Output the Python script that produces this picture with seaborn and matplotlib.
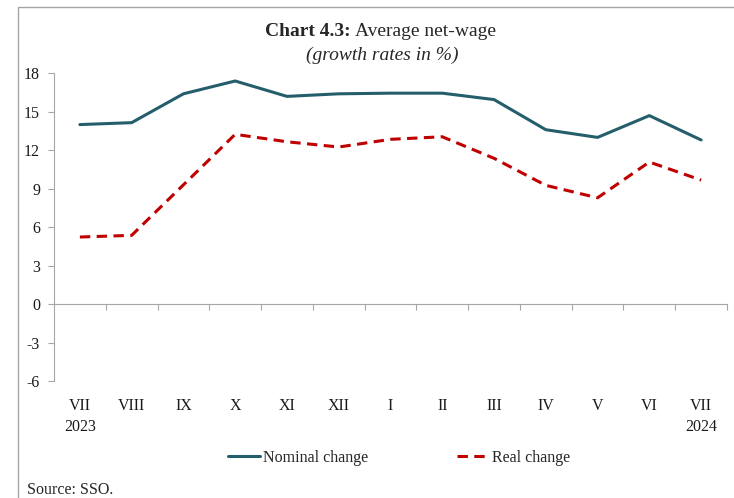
import numpy as np
import pandas as pd
import matplotlib
matplotlib.use('Agg')
import matplotlib.pyplot as plt
from matplotlib.patches import Rectangle
import seaborn as sns

# data (growth rates in %)
months = ['VII\n2023', 'VIII', 'IX', 'X', 'XI', 'XII', 'I', 'II', 'III',
          'IV', 'V', 'VI', 'VII\n2024']
nominal = [14.0, 14.15, 16.4, 17.4, 16.2, 16.4, 16.45, 16.45, 15.95,
           13.6, 13.0, 14.7, 12.8]
real = [5.23, 5.36, 9.3, 13.24, 12.66, 12.25, 12.85, 13.05, 11.37,
        9.26, 8.29, 11.08, 9.67]
yticks = [-6, -3, 0, 3, 6, 9, 12, 15, 18]

teal = '#255e6b'
red = '#c00000'
grey = '#a6a6a6'

sns.set_style('ticks')
plt.rcParams['font.family'] = ['Liberation Serif', 'DejaVu Serif']
plt.rcParams['font.size'] = 11
plt.rcParams['axes.unicode_minus'] = False

df = pd.DataFrame({'pos': np.arange(len(months)), 'nominal': nominal, 'real': real})

fig = plt.figure(figsize=(7.34, 4.98), dpi=100)
ax = fig.add_axes([54 / 734, 1 - 381 / 498, (727 - 54) / 734, (381 - 73.3) / 498])

sns.lineplot(data=df, x='pos', y='nominal', color=teal, lw=2.2,
             label='Nominal change', ax=ax)
sns.lineplot(data=df, x='pos', y='real', color=red, lw=2.2,
             linestyle=(0, (3.4, 2.1)), label='Real change', ax=ax)

ax.set_xlim(-0.5, len(months) - 0.5)
ax.set_ylim(-6, 18)
ax.set_yticks(yticks)
ax.set_xlabel('')
ax.set_ylabel('')

# zero line with little ticks between months
ax.spines['top'].set_visible(False)
ax.spines['right'].set_visible(False)
ax.spines['left'].set_color(grey)
ax.spines['bottom'].set_position(('data', 0))
ax.spines['bottom'].set_color(grey)
ax.set_xticks([])
ax.set_xticks(np.arange(len(months)) + 0.5, minor=True)
ax.tick_params(axis='x', which='minor', length=4, width=0.8, color=grey,
               direction='out', labelbottom=False)
ax.tick_params(axis='y', length=4, width=0.8, color=grey, direction='out',
               pad=6, labelsize=11.5, labelcolor='#1a1a1a')

# month labels at the bottom of the plot area
secax = ax.secondary_xaxis('bottom')
secax.set_xticks(np.arange(len(months)))
secax.set_xticklabels(months)
secax.spines['bottom'].set_visible(False)
secax.tick_params(length=0, pad=12.5, labelsize=11.5, labelcolor='#1a1a1a')
plt.setp(secax.get_xticklabels(), linespacing=1.4)

h, l = ax.get_legend_handles_labels()
ax.get_legend().remove()
fig.legend(h, l, loc='center', bbox_to_anchor=(399 / 734, 1 - 457.7 / 498),
           ncol=2, frameon=False, fontsize=11.5, handlelength=2.0,
           handletextpad=0.15, columnspacing=5.6)

# title
fig.text(351 / 734, 1 - 31 / 498, 'Chart 4.3:', ha='right', va='center',
         fontsize=14, fontweight='bold')
fig.text(355 / 734, 1 - 31 / 498, 'Average net-wage', ha='left', va='center',
         fontsize=14)
fig.text(382 / 734, 1 - 55 / 498, '(growth rates in %)', ha='center',
         va='center', fontsize=14, style='italic')

fig.text(27 / 734, 1 - 490 / 498, 'Source: SSO.', ha='left', va='center',
         fontsize=11.5)

# frame of the original page, cut at right and bottom
fig.add_artist(Rectangle((18 / 734, -0.1), 1.2, 1.1 - 6.7 / 498,
                         transform=fig.transFigure, fill=False,
                         ec=grey, lw=1))

fig.savefig('out.png', dpi=100)
